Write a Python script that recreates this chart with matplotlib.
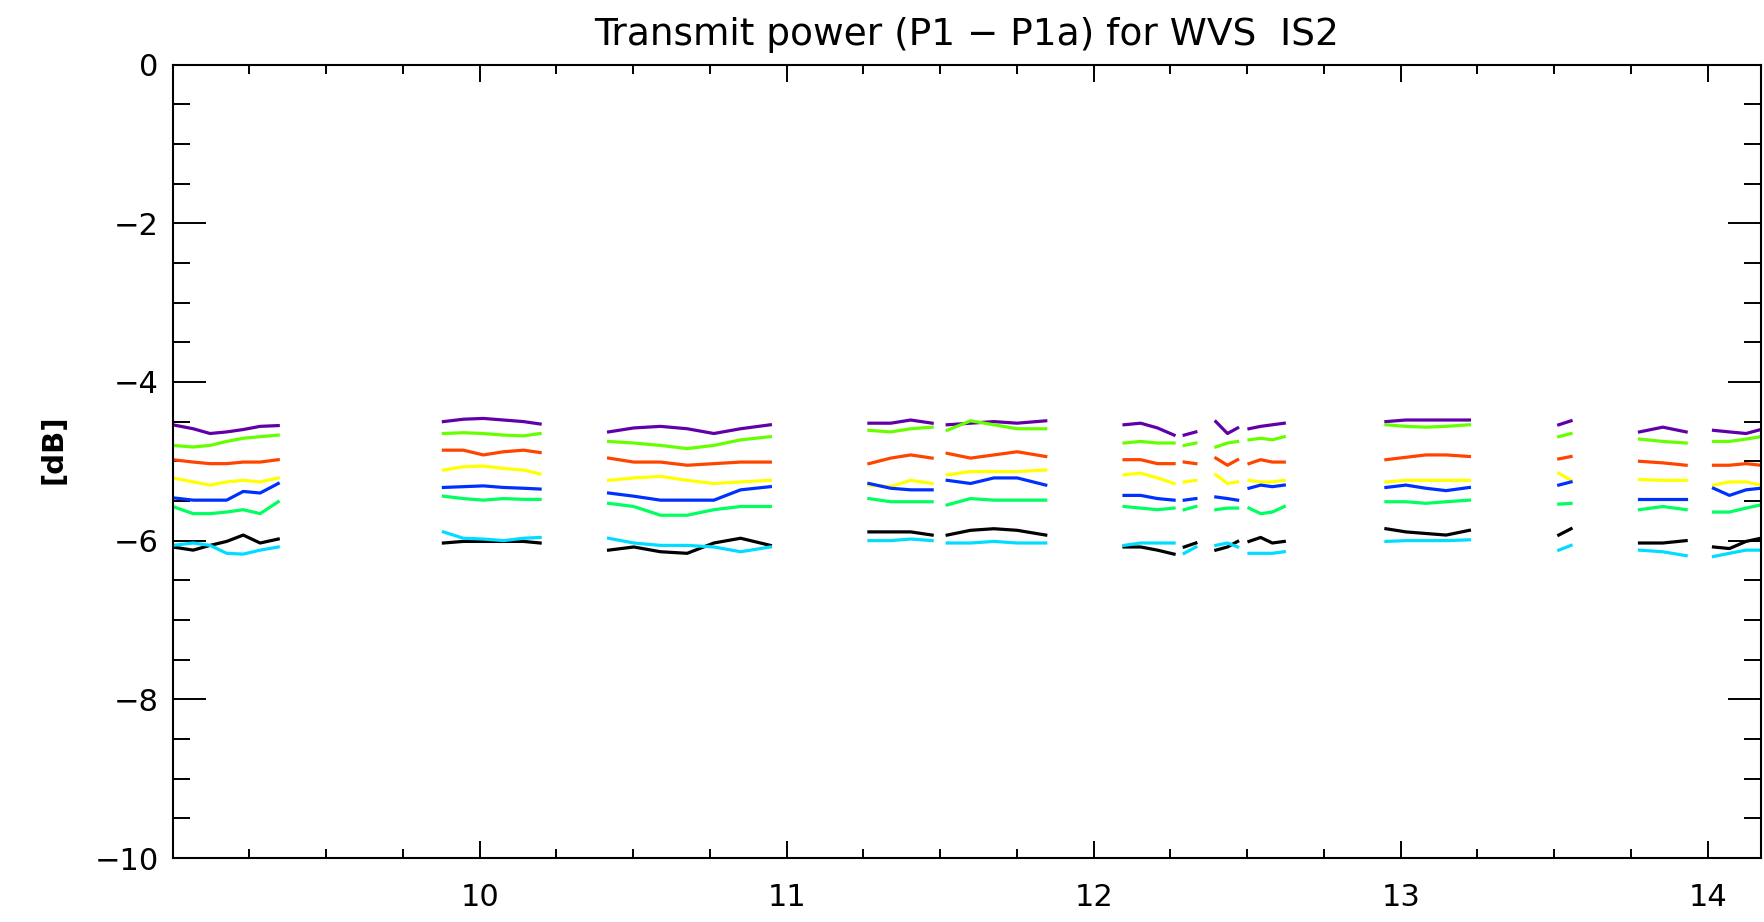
import matplotlib
matplotlib.use("Agg")
import matplotlib.pyplot as plt
from matplotlib.ticker import MultipleLocator

# time segments (x) -- gaps between them are data gaps
seg_t = [
    [9.0, 9.067, 9.122, 9.176, 9.230, 9.285, 9.344],
    [9.882, 9.947, 10.012, 10.078, 10.143, 10.197],
    [10.420, 10.502, 10.589, 10.676, 10.763, 10.850, 10.947],
    [11.268, 11.339, 11.404, 11.474],
    [11.523, 11.599, 11.675, 11.751, 11.844],
    [12.099, 12.153, 12.208, 12.262],
    [12.295, 12.333],
    [12.398, 12.436, 12.469],
    [12.506, 12.544, 12.582, 12.621],
    [12.952, 13.017, 13.082, 13.148, 13.224],
    [13.515, 13.555],
    [13.778, 13.854, 13.930],
    [14.019, 14.071, 14.125, 14.173],
]

purple = [
    [-4.54, -4.59, -4.65, -4.63, -4.60, -4.56, -4.55],
    [-4.50, -4.47, -4.46, -4.48, -4.50, -4.53],
    [-4.63, -4.58, -4.56, -4.59, -4.65, -4.59, -4.54],
    [-4.52, -4.52, -4.48, -4.52],
    [-4.54, -4.52, -4.50, -4.52, -4.49],
    [-4.54, -4.52, -4.58, -4.67],
    [-4.67, -4.63],
    [-4.50, -4.65, -4.58],
    [-4.59, -4.56, -4.54, -4.52],
    [-4.50, -4.48, -4.48, -4.48, -4.48],
    [-4.54, -4.49],
    [-4.63, -4.57, -4.63],
    [-4.61, -4.63, -4.65, -4.60],
]
lime = [
    [-4.80, -4.82, -4.80, -4.75, -4.71, -4.69, -4.67],
    [-4.65, -4.64, -4.65, -4.67, -4.68, -4.65],
    [-4.75, -4.77, -4.80, -4.84, -4.80, -4.73, -4.69],
    [-4.61, -4.63, -4.59, -4.57],
    [-4.61, -4.49, -4.54, -4.59, -4.59],
    [-4.77, -4.75, -4.77, -4.77],
    [-4.80, -4.77],
    [-4.82, -4.77, -4.75],
    [-4.73, -4.71, -4.73, -4.69],
    [-4.54, -4.56, -4.57, -4.56, -4.54],
    [-4.69, -4.65],
    [-4.72, -4.75, -4.77],
    [-4.75, -4.75, -4.72, -4.69],
]
orange = [
    [-4.98, -5.01, -5.03, -5.03, -5.01, -5.01, -4.98],
    [-4.86, -4.86, -4.92, -4.88, -4.86, -4.89],
    [-4.96, -5.01, -5.01, -5.05, -5.03, -5.01, -5.01],
    [-5.03, -4.96, -4.92, -4.96],
    [-4.90, -4.96, -4.92, -4.88, -4.94],
    [-4.98, -4.98, -5.03, -5.03],
    [-5.01, -5.03],
    [-4.96, -5.05, -4.98],
    [-5.03, -4.98, -5.01, -5.01],
    [-4.98, -4.95, -4.92, -4.92, -4.94],
    [-4.97, -4.94],
    [-5.00, -5.02, -5.05],
    [-5.05, -5.05, -5.03, -5.05],
]
yellow = [
    [-5.21, -5.26, -5.30, -5.26, -5.24, -5.26, -5.21],
    [-5.11, -5.07, -5.06, -5.09, -5.11, -5.16],
    [-5.24, -5.21, -5.19, -5.24, -5.28, -5.26, -5.24],
    [-5.30, -5.32, -5.24, -5.28],
    [-5.17, -5.13, -5.13, -5.13, -5.11],
    [-5.17, -5.15, -5.21, -5.28],
    [-5.26, -5.24],
    [-5.17, -5.28, -5.26],
    [-5.24, -5.26, -5.26, -5.24],
    [-5.26, -5.24, -5.24, -5.24, -5.24],
    [-5.15, -5.24],
    [-5.23, -5.24, -5.24],
    [-5.30, -5.26, -5.26, -5.30],
]
blue = [
    [-5.46, -5.49, -5.49, -5.49, -5.38, -5.40, -5.28],
    [-5.33, -5.32, -5.31, -5.33, -5.34, -5.35],
    [-5.40, -5.44, -5.49, -5.49, -5.49, -5.36, -5.32],
    [-5.28, -5.34, -5.36, -5.36],
    [-5.24, -5.28, -5.21, -5.21, -5.30],
    [-5.43, -5.43, -5.47, -5.49],
    [-5.49, -5.47],
    [-5.45, -5.47, -5.49],
    [-5.34, -5.30, -5.32, -5.30],
    [-5.33, -5.30, -5.34, -5.37, -5.33],
    [-5.30, -5.26],
    [-5.47, -5.47, -5.47],
    [-5.34, -5.43, -5.36, -5.34],
]
spring = [
    [-5.57, -5.66, -5.66, -5.64, -5.61, -5.66, -5.51],
    [-5.44, -5.47, -5.49, -5.47, -5.48, -5.48],
    [-5.53, -5.57, -5.68, -5.68, -5.61, -5.57, -5.57],
    [-5.47, -5.51, -5.51, -5.51],
    [-5.55, -5.47, -5.49, -5.49, -5.49],
    [-5.57, -5.59, -5.61, -5.59],
    [-5.61, -5.57],
    [-5.61, -5.59, -5.59],
    [-5.59, -5.66, -5.64, -5.57],
    [-5.51, -5.51, -5.53, -5.51, -5.49],
    [-5.54, -5.53],
    [-5.61, -5.57, -5.61],
    [-5.64, -5.64, -5.59, -5.55],
]
black = [
    [-6.08, -6.12, -6.06, -6.01, -5.93, -6.03, -5.98],
    [-6.03, -6.01, -6.01, -6.01, -6.01, -6.03],
    [-6.12, -6.08, -6.14, -6.16, -6.03, -5.97, -6.06],
    [-5.89, -5.89, -5.89, -5.93],
    [-5.93, -5.87, -5.85, -5.87, -5.93],
    [-6.08, -6.08, -6.12, -6.17],
    [-6.08, -6.03],
    [-6.12, -6.08, -6.01],
    [-6.01, -5.96, -6.03, -6.01],
    [-5.85, -5.89, -5.91, -5.93, -5.87],
    [-5.93, -5.85],
    [-6.03, -6.03, -6.00],
    [-6.08, -6.10, -6.01, -5.97],
]
cyan = [
    [-6.06, -6.03, -6.06, -6.16, -6.17, -6.12, -6.08],
    [-5.89, -5.97, -5.98, -6.00, -5.97, -5.96],
    [-5.97, -6.03, -6.06, -6.06, -6.08, -6.14, -6.08],
    [-6.00, -6.00, -5.98, -6.00],
    [-6.03, -6.03, -6.01, -6.03, -6.03],
    [-6.06, -6.03, -6.03, -6.03],
    [-6.16, -6.08],
    [-6.06, -6.03, -6.08],
    [-6.16, -6.16, -6.16, -6.14],
    [-6.01, -6.00, -6.00, -6.00, -5.99],
    [-6.12, -6.06],
    [-6.12, -6.14, -6.19],
    [-6.20, -6.16, -6.12, -6.12],
]

series = [purple, lime, orange, yellow, blue, spring, black, cyan]
colors = ['#6000a8', '#66ff00', '#ff4400', '#ffff00', '#0030ff', '#00ff60', 'black', '#00ddff']
xticks = [10, 11, 12, 13, 14]

plt.rcParams['font.family'] = ['DejaVu Sans']
plt.rcParams['font.size'] = 22

fig = plt.figure(figsize=(17.65, 9.22), dpi=100)
ax = fig.add_axes([0.0978, 0.0694, 0.8998, 0.8606])

for vals, c in zip(series, colors):
    for t, v in zip(seg_t, vals):
        ax.plot(t, v, color=c, lw=2.3)

ax.set_xlim(9.0, 14.173)
ax.set_ylim(-10, 0)
ax.set_xticks(xticks)
ax.xaxis.set_minor_locator(MultipleLocator(0.25))
ax.yaxis.set_major_locator(MultipleLocator(2))
ax.yaxis.set_minor_locator(MultipleLocator(0.5))

ax.tick_params(axis='both', which='both', direction='in', top=True, right=True, width=1.4)
ax.tick_params(axis='x', which='major', length=12, pad=18)
ax.tick_params(axis='x', which='minor', length=6.5)
ax.tick_params(axis='y', which='major', length=24, pad=10)
ax.tick_params(axis='y', which='minor', length=12)
for s in ax.spines.values():
    s.set_linewidth(1.5)

ax.set_title('Transmit power (P1 \u2212 P1a) for WVS  IS2', fontsize=27, pad=14)
ax.set_ylabel('[dB]', fontweight='bold', fontsize=21, labelpad=22)
ax.yaxis.set_label_coords(-0.066, 0.515)

fig.savefig('out.png', dpi=100)
